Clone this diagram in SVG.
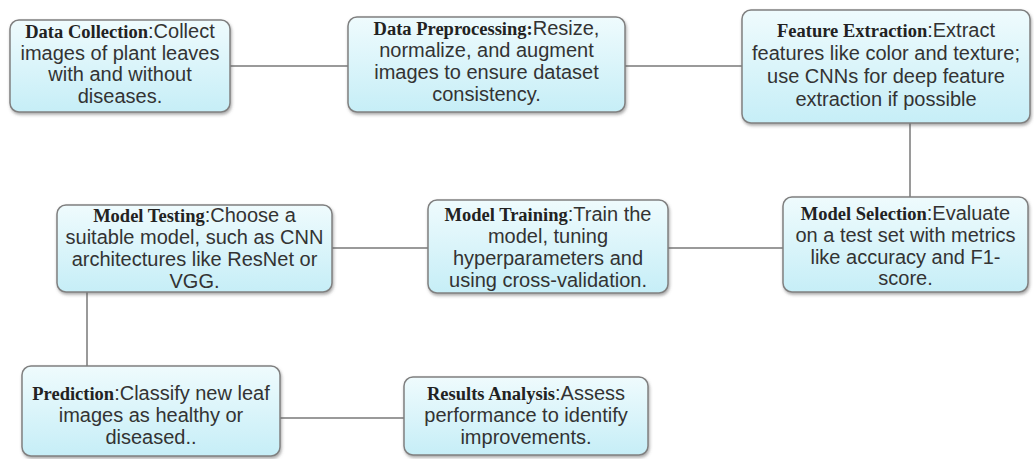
<svg xmlns="http://www.w3.org/2000/svg" width="1034" height="459" viewBox="0 0 1034 459">
<defs>
<linearGradient id="fillg" x1="0" y1="0" x2="0" y2="1">
<stop offset="0" stop-color="#effbfd"/>
<stop offset="1" stop-color="#c6eef7"/>
</linearGradient>
<filter id="sh" x="-10%" y="-10%" width="120%" height="130%">
<feDropShadow dx="1" dy="2" stdDeviation="1.5" flood-color="#555" flood-opacity="0.5"/>
</filter>
</defs>
<style>
.box{fill:url(#fillg);stroke:#808080;stroke-width:1.5;filter:url(#sh)}
.t{font-family:"Liberation Sans",Arial,sans-serif;font-size:20px;fill:#333;text-anchor:middle}
.b{font-family:"Liberation Serif","Times New Roman",serif;font-size:18.5px;font-weight:bold;fill:#222}
.c{stroke:#9a9a9a;stroke-width:2;fill:none}
</style>
<rect width="1034" height="459" fill="#ffffff"/>
<g id="connectors">
<line class="c" x1="230" y1="66" x2="348" y2="66"/>
<line class="c" x1="625" y1="66" x2="742" y2="66"/>
<line class="c" x1="910" y1="123" x2="910" y2="197"/>
<line class="c" x1="668" y1="248" x2="783" y2="248"/>
<line class="c" x1="332" y1="248" x2="428" y2="248"/>
<line class="c" x1="87" y1="292" x2="87" y2="366"/>
<line class="c" x1="280" y1="418" x2="404" y2="418"/>
</g>
<g id="data-collection">
<rect class="box" x="10" y="20" width="220" height="92" rx="9"/>
<text class="t" x="120" y="38"><tspan class="b">Data Collection</tspan>:Collect</text>
<text class="t" x="120" y="59.5">images of plant leaves</text>
<text class="t" x="120" y="81">with and without</text>
<text class="t" x="120" y="102.5">diseases.</text>
</g>
<g id="data-preprocessing">
<rect class="box" x="348" y="17" width="277" height="95" rx="9"/>
<text class="t" x="486.5" y="35"><tspan class="b">Data Preprocessing:</tspan>Resize,</text>
<text class="t" x="486.5" y="57">normalize, and augment</text>
<text class="t" x="486.5" y="79">images to ensure dataset</text>
<text class="t" x="486.5" y="101">consistency.</text>
</g>
<g id="feature-extraction">
<rect class="box" x="742" y="10" width="288" height="113" rx="9"/>
<text class="t" x="886" y="37"><tspan class="b">Feature Extraction</tspan>:Extract</text>
<text class="t" x="886" y="60">features like color and texture;</text>
<text class="t" x="886" y="83">use CNNs for deep feature</text>
<text class="t" x="886" y="106">extraction if possible</text>
</g>
<g id="model-selection">
<rect class="box" x="783" y="197" width="245" height="95" rx="9"/>
<text class="t" x="905.5" y="220"><tspan class="b">Model Selection</tspan>:Evaluate</text>
<text class="t" x="905.5" y="242">on a test set with metrics</text>
<text class="t" x="905.5" y="264">like accuracy and F1-</text>
<text class="t" x="905.5" y="285">score.</text>
</g>
<g id="model-training">
<rect class="box" x="428" y="200" width="240" height="93" rx="9"/>
<text class="t" x="548" y="221"><tspan class="b">Model Training</tspan>:Train the</text>
<text class="t" x="548" y="243">model, tuning</text>
<text class="t" x="548" y="265">hyperparameters and</text>
<text class="t" x="548" y="287">using cross-validation.</text>
</g>
<g id="model-testing">
<rect class="box" x="57" y="205" width="275" height="87" rx="9"/>
<text class="t" x="194.5" y="222"><tspan class="b">Model Testing</tspan>:Choose a</text>
<text class="t" x="194.5" y="244">suitable model, such as CNN</text>
<text class="t" x="194.5" y="266">architectures like ResNet or</text>
<text class="t" x="194.5" y="288">VGG.</text>
</g>
<g id="prediction">
<rect class="box" x="22" y="366" width="258" height="90" rx="9"/>
<text class="t" x="151" y="400"><tspan class="b">Prediction</tspan>:Classify new leaf</text>
<text class="t" x="151" y="422">images as healthy or</text>
<text class="t" x="151" y="444">diseased..</text>
</g>
<g id="results-analysis">
<rect class="box" x="404" y="377" width="244" height="78" rx="9"/>
<text class="t" x="526" y="400"><tspan class="b">Results Analysis</tspan>:Assess</text>
<text class="t" x="526" y="422">performance to identify</text>
<text class="t" x="526" y="444">improvements.</text>
</g>
</svg>
